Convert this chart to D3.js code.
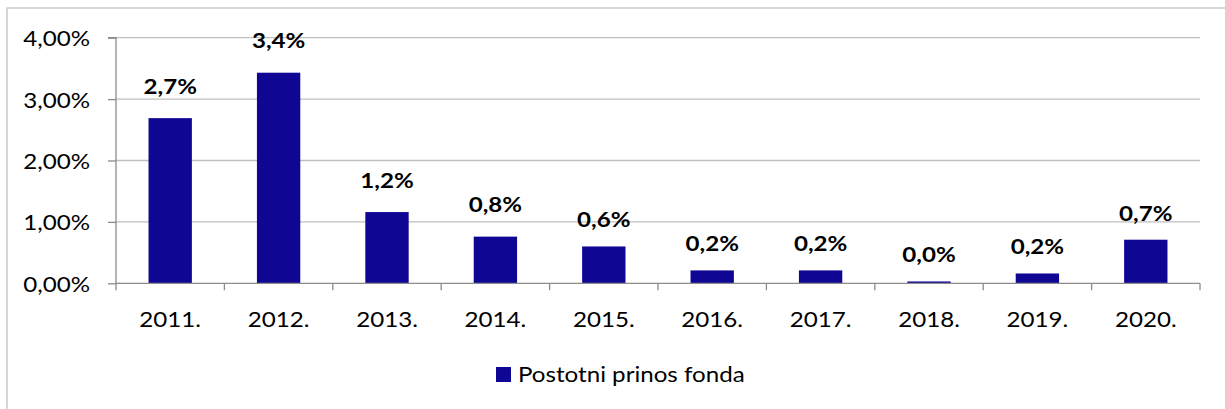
<!DOCTYPE html>
<html><head><meta charset="utf-8">
<script src="https://cdn.jsdelivr.net/npm/d3@7/dist/d3.min.js"></script>
<style>
body{margin:0;background:#fff;}
text{font-family:Lato,Carlito,Calibri,"Open Sans",sans-serif;fill:#000;}
</style></head><body>
<svg id="c" width="1225" height="409"></svg>
<script>
const categories = ["2011.","2012.","2013.","2014.","2015.","2016.","2017.","2018.","2019.","2020."];
const values = [2.69, 3.43, 1.16, 0.76, 0.60, 0.21, 0.21, 0.03, 0.16, 0.71];
const yTicks = [0, 1, 2, 3, 4];
const seriesName = "Postotni prinos fonda";

(function(){
const svg = d3.select("#c");
const color = "#0f0793";
const pl = 116, pr = 1200, pt = 37.7, pb = 283.3;
const FS = 21, SX = 1.15;

svg.append("rect").attr("x",7).attr("y",8).attr("width",1230).attr("height",420)
  .attr("fill","none").attr("stroke","#c0c0c0").attr("stroke-width",1.3);

const x = d3.scaleBand().domain(categories).range([pl,pr]).paddingInner(0.6).paddingOuter(0.3);
const y = d3.scaleLinear().domain([0,4]).range([pb,pt]);

svg.append("g").selectAll("line").data(yTicks.slice(1)).join("line")
  .attr("x1",pl).attr("x2",pr).attr("y1",d=>y(d)).attr("y2",d=>y(d))
  .attr("stroke","#bfbfbf").attr("stroke-width",1.3);

svg.append("g").selectAll("rect").data(values).join("rect")
  .attr("x",(d,i)=>x(categories[i])).attr("width",x.bandwidth())
  .attr("y",d=>y(d)).attr("height",d=>y(0)-y(d)).attr("fill",color);

// y axis
const yAxis = svg.append("g").attr("transform",`translate(${pl},0)`)
  .call(d3.axisLeft(y).tickValues(yTicks).tickSize(8).tickFormat(""));
yAxis.selectAll("path,line").attr("stroke","#8c8c8c").attr("stroke-width",1.3);
yAxis.select("path").attr("d",`M-8,${pt}H0V${pb}`);
svg.append("g").selectAll("text").data(yTicks).join("text")
  .attr("transform",d=>`translate(${pl-26},${y(d)+8.5}) scale(${SX},1)`)
  .attr("text-anchor","end").attr("font-size",FS)
  .text(d=>d.toFixed(2).replace(".",",")+"%");

// x axis
const xb = d3.scaleLinear().domain([0,categories.length]).range([pl,pr]);
const xg = svg.append("g");
xg.append("line").attr("x1",pl).attr("x2",pr).attr("y1",pb).attr("y2",pb)
  .attr("stroke","#8c8c8c").attr("stroke-width",1.3);
xg.selectAll("line.t").data(d3.range(categories.length+1)).join("line").attr("class","t")
  .attr("x1",d=>xb(d)).attr("x2",d=>xb(d)).attr("y1",pb).attr("y2",pb+7)
  .attr("stroke","#8c8c8c").attr("stroke-width",1.3);
xg.selectAll("text").data(categories).join("text")
  .attr("transform",d=>`translate(${x(d)+x.bandwidth()/2},${pb+43.3}) scale(${SX},1)`)
  .attr("text-anchor","middle").attr("font-size",FS).text(d=>d);

// data labels (the first four sit a little higher in the original)
svg.append("g").selectAll("text").data(values).join("text")
  .attr("transform",(d,i)=>`translate(${x(categories[i])+x.bandwidth()/2},${y(d)-(i<4?24.5:19)}) scale(${SX},1)`)
  .attr("text-anchor","middle").attr("font-size",FS).attr("font-weight","bold")
  .text(d=>d.toFixed(1).replace(".",",")+"%");

// legend
const lg = svg.append("g");
lg.append("rect").attr("x",496).attr("y",367).attr("width",15).attr("height",15).attr("fill",color);
lg.append("text").attr("transform",`translate(518,381.7) scale(${SX},1)`).attr("font-size",FS).text(seriesName);
})();
</script>
</body></html>
